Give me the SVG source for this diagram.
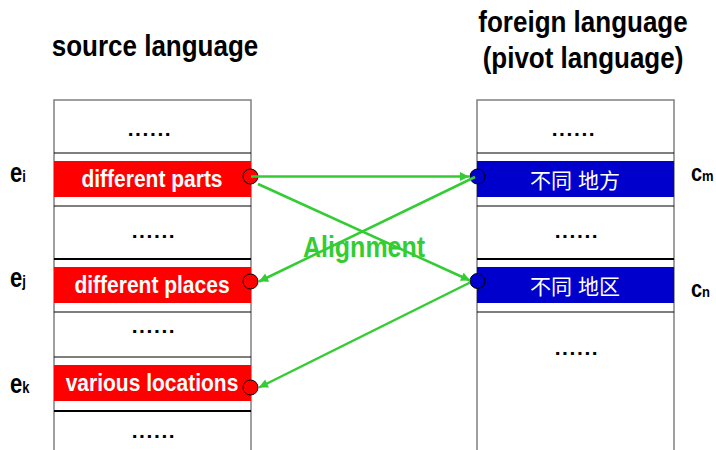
<svg xmlns="http://www.w3.org/2000/svg" width="716" height="450" viewBox="0 0 716 450">
<defs>
<style>
.t{font-family:"Liberation Sans",Arial,sans-serif;font-weight:bold;fill:#000}
.band{font-family:"Liberation Sans",Arial,sans-serif;font-weight:bold;fill:#fff;font-size:21px;text-anchor:middle}
.cjk{font-family:"Liberation Sans","Noto Sans CJK SC",sans-serif;font-weight:normal;fill:#fff;font-size:21px;text-anchor:middle}
.dots{font-family:"Liberation Sans",Arial,sans-serif;font-weight:bold;font-size:21px;letter-spacing:1.6px;text-anchor:middle;fill:#000}
.col{fill:#fff;stroke:#808080;stroke-width:1.5}
.hl{stroke:#000;stroke-width:1.2}
.hl2{stroke:#000;stroke-width:2.2}
.red{fill:#ff0000}
.blue{fill:#0000cc}
.pr{fill:#ff0000;stroke:#000;stroke-width:1}
.pb{fill:#0000cc;stroke:#000;stroke-width:1}
.arr{stroke:#33cc33;stroke-width:2.5;fill:none;marker-end:url(#ah)}
</style>
<marker id="ah" viewBox="0 0 10 10" refX="10" refY="5" markerWidth="4" markerHeight="3.6" markerUnits="strokeWidth" orient="auto">
<path d="M0,0 L10,5 L0,10 Z" fill="#33cc33"/>
</marker>
</defs>
<rect width="716" height="450" fill="#fff"/>

<g id="titles">
<text class="t" transform="translate(155,56) scale(1,1.15)" font-size="26" text-anchor="middle">source language</text>
<text class="t" transform="translate(583,32) scale(1,1.15)" font-size="26" text-anchor="middle">foreign language</text>
<text class="t" transform="translate(583,68) scale(1,1.15)" font-size="26" text-anchor="middle">(pivot language)</text>
</g>

<g id="source-column">
<rect class="col" x="54" y="100" width="197" height="360"/>
<line class="hl" x1="54" y1="153" x2="251" y2="153"/>
<line class="hl" x1="54" y1="206" x2="251" y2="206"/>
<line class="hl2" x1="54" y1="259" x2="251" y2="259"/>
<line class="hl" x1="54" y1="312" x2="251" y2="312"/>
<line class="hl" x1="54" y1="357" x2="251" y2="357"/>
<line class="hl2" x1="54" y1="411" x2="251" y2="411"/>
<text class="dots" x="150" y="136">......</text>
<text class="dots" x="154" y="238">......</text>
<text class="dots" x="154" y="333">......</text>
<text class="dots" x="154" y="438">......</text>
</g>

<g id="node-ei">
<rect class="red" x="54" y="161" width="197" height="36"/>
<text class="band" transform="translate(152,187) scale(1,1.12)">different parts</text>
<circle class="pr" cx="250.5" cy="176.5" r="7.5"/>
<text class="t" transform="translate(10,182) scale(1,1.25)" font-size="22">e<tspan font-size="13">i</tspan></text>
</g>

<g id="node-ej">
<rect class="red" x="54" y="267" width="197" height="36"/>
<text class="band" transform="translate(152,293) scale(1,1.12)">different places</text>
<circle class="pr" cx="250.5" cy="281.5" r="7.5"/>
<text class="t" transform="translate(10,287) scale(1,1.25)" font-size="22">e<tspan font-size="13">j</tspan></text>
</g>

<g id="node-ek">
<rect class="red" x="54" y="365" width="197" height="36"/>
<text class="band" transform="translate(152,391) scale(1,1.12)">various locations</text>
<circle class="pr" cx="250.5" cy="387.5" r="7.5"/>
<text class="t" transform="translate(10,393) scale(1,1.25)" font-size="22">e<tspan font-size="13">k</tspan></text>
</g>

<g id="target-column">
<rect class="col" x="477" y="100" width="197" height="360"/>
<line class="hl" x1="477" y1="153" x2="674" y2="153"/>
<line class="hl" x1="477" y1="206" x2="674" y2="206"/>
<line class="hl2" x1="477" y1="259" x2="674" y2="259"/>
<line class="hl" x1="477" y1="312" x2="674" y2="312"/>
<text class="dots" x="574" y="136">......</text>
<text class="dots" x="577" y="238">......</text>
<text class="dots" x="577" y="355">......</text>
</g>

<g id="node-cm">
<rect class="blue" x="477" y="161" width="197" height="36"/>
<text class="cjk" x="575" y="188" font-size="22">不同 地方</text>
<circle class="pb" cx="477.5" cy="176.5" r="7.5"/>
<text class="t" transform="translate(691,181) scale(1,1.15)" font-size="20">c<tspan font-size="13">m</tspan></text>
</g>

<g id="node-cn">
<rect class="blue" x="477" y="267" width="197" height="36"/>
<text class="cjk" x="575" y="294" font-size="22">不同 地区</text>
<circle class="pb" cx="477.5" cy="281" r="7.5"/>
<text class="t" transform="translate(691,297) scale(1,1.15)" font-size="20">c<tspan font-size="13">n</tspan></text>
</g>

<g id="connectors">
<line class="arr" x1="251" y1="176.5" x2="469" y2="176.5"/>
<line class="arr" x1="258" y1="184" x2="470" y2="280.5"/>
<line class="arr" x1="475" y1="177" x2="259" y2="281.5"/>
<line class="arr" x1="470" y1="282.5" x2="259" y2="387.5"/>
<text transform="translate(364,257) scale(1,1.15)" font-family="Liberation Sans,Arial,sans-serif" font-weight="bold" font-size="25" fill="#33cc33" text-anchor="middle">Alignment</text>
</g>
</svg>
